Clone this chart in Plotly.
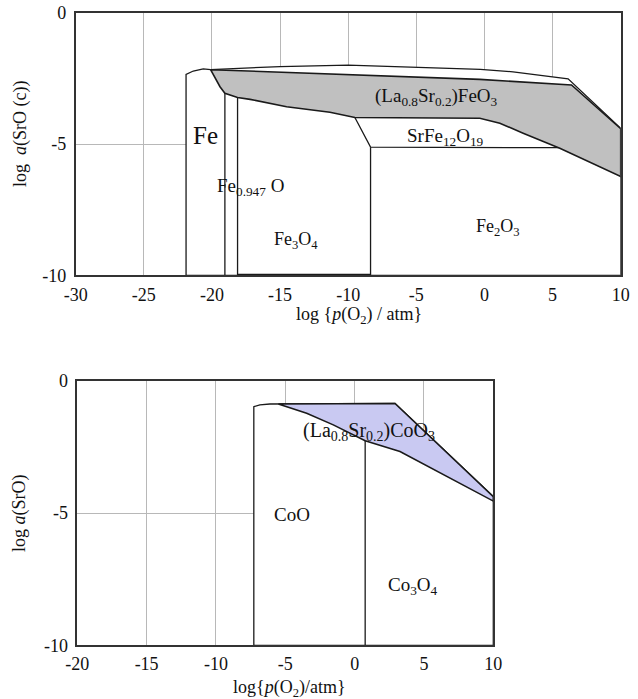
import plotly.graph_objects as go

# ---------------- Top panel: La-Sr-Fe-O ----------------
fe_envelope_x = [-21.9, -21.9, -21.37, -20.64, -20.1, -15.0, -10.0, -0.3, 2.1, 6.14, 10.0, 10.0, -21.9]
fe_envelope_y = [-10.0, -2.35, -2.22, -2.14, -2.17, -2.05, -2.0, -2.16, -2.25, -2.52, -4.4, -10.0, -10.0]

lsf_x = [-20.1, -15.0, -11.34, -0.34, 6.39, 10.0, 10.0, 5.53, 2.84, 1.13, -0.34, -5.0, -9.51,
         -11.34, -14.52, -17.2, -18.12, -19.05, -19.41, -20.1]
lsf_y = [-2.17, -2.27, -2.35, -2.54, -2.75, -4.42, -6.24, -5.16, -4.59, -4.21, -4.02, -4.0, -3.99,
         -3.79, -3.58, -3.3, -3.23, -3.07, -2.82, -2.17]

fe_feo_x = [-19.05, -19.05]
fe_feo_y = [-10.0, -3.07]
feo_fe3o4_x = [-18.12, -18.12]
feo_fe3o4_y = [-10.0, -3.23]
srfe12_x = [-9.51, -8.36, 5.45]
srfe12_y = [-3.99, -5.12, -5.14]
fe3o4_fe2o3_x = [-8.36, -8.36]
fe3o4_fe2o3_y = [-5.12, -10.0]
fe3o4_base_x = [-18.12, -8.36]
fe3o4_base_y = [-10.0, -10.0]

top_labels = ["Fe", "Fe<sub>0.947</sub> O", "Fe<sub>3</sub>O<sub>4</sub>", "Fe<sub>2</sub>O<sub>3</sub>",
              "SrFe<sub>12</sub>O<sub>19</sub>", "(La<sub>0.8</sub>Sr<sub>0.2</sub>)FeO<sub>3</sub>"]
top_label_x = [-20.45, -17.2, -13.85, 0.99, -2.85, -3.5]
top_label_y = [-4.66, -6.63, -8.66, -8.18, -4.74, -3.2]
top_label_size = [25, 19, 18, 18, 19, 19]

top_xticks = [-30, -25, -20, -15, -10, -5, 0, 5, 10]
top_xtick_text = ["-30", "-25", "-20", "-15", "-10", "-5", "0", "5", "10"]
top_yticks = [0, -5, -10]
top_ytick_text = ["0", "-5", "-10"]

# ---------------- Bottom panel: La-Sr-Co-O ----------------
co_envelope_x = [-7.27, -7.27, -6.83, -6.11, 2.91, 10.0, 10.0, -7.27]
co_envelope_y = [-10.0, -0.98, -0.91, -0.88, -0.86, -4.38, -10.0, -10.0]

lsc_x = [-5.5, 2.91, 10.0, 10.0, 3.27, 0.76, -1.54, -3.46, -5.5]
lsc_y = [-0.88, -0.86, -4.38, -4.55, -2.68, -2.27, -1.67, -1.23, -0.88]

coo_co3o4_x = [0.76, 0.76]
coo_co3o4_y = [-10.0, -2.27]

bot_labels = ["CoO", "Co<sub>3</sub>O<sub>4</sub>", "(La<sub>0.8</sub>Sr<sub>0.2</sub>)CoO<sub>3</sub>"]
bot_label_x = [-4.52, 4.22, 1.03]
bot_label_y = [-5.04, -7.77, -1.93]
bot_label_size = [19, 19, 20]

bot_xticks = [-20, -15, -10, -5, 0, 5, 10]
bot_xtick_text = ["-20", "-15", "-10", "-5", "0", "5", "10"]
bot_yticks = [0, -5, -10]
bot_ytick_text = ["0", "-5", "-10"]

FONT = "Liberation Serif, Times New Roman, serif"
LINE = "#1a1a1a"

fig = go.Figure()

def poly(x, y, fill, xa, ya, width=1.3):
    fig.add_trace(go.Scatter(x=x, y=y, mode="lines", fill="toself", fillcolor=fill,
                             line=dict(color=LINE, width=width), xaxis=xa, yaxis=ya,
                             hoverinfo="skip", showlegend=False))

def line(x, y, xa, ya, width=1.3):
    fig.add_trace(go.Scatter(x=x, y=y, mode="lines", line=dict(color=LINE, width=width),
                             xaxis=xa, yaxis=ya, hoverinfo="skip", showlegend=False))

# top
poly(fe_envelope_x, fe_envelope_y, "white", "x", "y")
poly(lsf_x, lsf_y, "#c0c0c0", "x", "y", 1.6)
line(fe_feo_x, fe_feo_y, "x", "y")
line(feo_fe3o4_x, feo_fe3o4_y, "x", "y")
line(srfe12_x, srfe12_y, "x", "y")
line(fe3o4_fe2o3_x, fe3o4_fe2o3_y, "x", "y")
line(fe3o4_base_x, fe3o4_base_y, "x", "y", 3)

# bottom
poly(co_envelope_x, co_envelope_y, "white", "x2", "y2")
poly(lsc_x, lsc_y, "#c9c9f2", "x2", "y2", 1.6)
line(coo_co3o4_x, coo_co3o4_y, "x2", "y2")

annotations = []
for t, x, y, s in zip(top_labels, top_label_x, top_label_y, top_label_size):
    annotations.append(dict(text=t, x=x, y=y, xref="x", yref="y", showarrow=False,
                            xanchor="center", yanchor="middle",
                            font=dict(family=FONT, size=s, color="#111")))
for t, x, y, s in zip(bot_labels, bot_label_x, bot_label_y, bot_label_size):
    annotations.append(dict(text=t, x=x, y=y, xref="x2", yref="y2", showarrow=False,
                            xanchor="center", yanchor="middle",
                            font=dict(family=FONT, size=s, color="#111")))

W, H = 638, 699
title_font = dict(family=FONT, size=18, color="#111")
title_common = dict(xref="paper", yref="paper", showarrow=False, xanchor="center",
                    yanchor="middle", font=title_font)
annotations += [
    dict(text="log {<i>p</i>(O<sub>2</sub>) / atm}", x=359 / W, y=1 - 316 / H, **title_common),
    dict(text="log  <i>a</i>(SrO (c))", x=21 / W, y=1 - 134 / H, textangle=-90, **title_common),
    dict(text="log{<i>p</i>(O<sub>2</sub>)/atm}", x=289 / W, y=1 - 688 / H, **title_common),
    dict(text="log <i>a</i>(SrO)", x=19 / W, y=1 - 513 / H, textangle=-90, **title_common),
]

tickfont = dict(family=FONT, size=18, color="#111")
axis_common = dict(showgrid=True, gridcolor="#b8b8b8", gridwidth=1, zeroline=False,
                   showline=True, linecolor="#333", linewidth=1.5, mirror=True,
                   ticks="", tickfont=tickfont, automargin=False, fixedrange=True)

fig.update_layout(
    width=W, height=H, margin=dict(l=0, r=0, t=0, b=0),
    paper_bgcolor="white", plot_bgcolor="white", showlegend=False,
    xaxis=dict(domain=[75.7 / W, 620.7 / W], range=[-30, 10], tickvals=top_xticks,
               ticktext=top_xtick_text, anchor="y", ticklabelstandoff=2, **axis_common),
    yaxis=dict(domain=[1 - 275.3 / H, 1 - 12.7 / H], range=[-10, 0], tickvals=top_yticks,
               ticktext=top_ytick_text, anchor="x", ticklabelstandoff=4, **axis_common),
    xaxis2=dict(domain=[77.3 / W, 493.3 / W], range=[-20, 10], tickvals=bot_xticks,
                ticktext=bot_xtick_text, anchor="y2", ticklabelstandoff=1, **axis_common),
    yaxis2=dict(domain=[1 - 645.3 / H, 1 - 380.7 / H], range=[-10, 0], tickvals=bot_yticks,
                ticktext=bot_ytick_text, anchor="x2", ticklabelstandoff=4, **axis_common),
    annotations=annotations,
)

fig.write_html("out.html", config={"displayModeBar": False},
               post_script="document.body.style.margin='0px';document.body.style.overflow='hidden';")
